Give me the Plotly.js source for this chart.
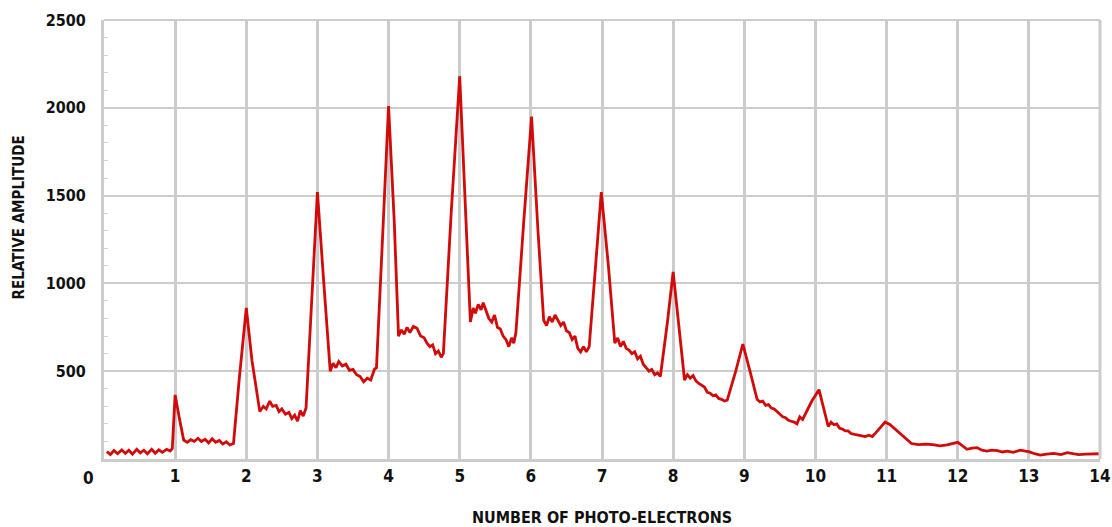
<!DOCTYPE html>
<html>
<head>
<meta charset="utf-8">
<script src="https://cdn.plot.ly/plotly-3.0.1.min.js"></script>
<style>html,body{margin:0;padding:0;background:#fff;}#chart{width:1112px;height:527px;}</style>
</head>
<body>
<div id="chart"></div>
<script>
// Photo-electron count (x) and relative amplitude (y)
const photoElectrons = [
  0.04,0.09,0.14,0.19,0.25,0.30,0.35,0.40,0.46,0.51,0.56,0.61,0.67,0.72,0.77,0.82,0.88,0.93,0.96,
  1.00,1.06,1.12,1.17,1.22,1.27,1.32,1.37,1.42,1.47,1.52,1.57,1.62,1.67,1.72,1.77,1.82,
  1.90,2.00,2.08,2.19,2.24,2.28,2.33,2.37,2.42,2.46,2.50,2.55,2.60,2.64,2.68,2.72,2.76,2.80,2.84,
  2.92,3.00,3.09,3.18,3.22,3.26,3.30,3.35,3.40,3.45,3.50,3.55,3.60,3.65,3.70,3.75,3.80,3.83,
  3.92,4.00,4.08,4.14,4.18,4.22,4.26,4.30,4.35,4.40,4.45,4.50,4.54,4.58,4.62,4.66,4.70,4.74,4.77,
  4.88,5.00,5.08,5.15,5.19,5.22,5.26,5.30,5.33,5.37,5.41,5.45,5.49,5.53,5.57,5.61,5.65,5.69,5.73,5.76,5.79,
  5.90,6.01,6.10,6.18,6.22,6.26,6.30,6.34,6.38,6.42,6.46,6.50,6.54,6.58,6.62,6.66,6.70,6.74,6.78,6.82,
  6.90,6.99,7.09,7.18,7.22,7.26,7.30,7.34,7.38,7.42,7.46,7.50,7.54,7.58,7.62,7.66,7.70,7.74,7.78,7.82,
  7.92,8.00,8.08,8.16,8.20,8.24,8.28,8.32,8.36,8.40,8.44,8.48,8.52,8.56,8.60,8.64,8.68,8.72,8.76,
  8.88,8.98,9.08,9.18,9.22,9.26,9.30,9.34,9.38,9.42,9.46,9.50,9.54,9.58,9.62,9.66,9.70,9.74,9.78,9.82,
  9.95,10.05,10.12,10.18,10.22,10.26,10.30,10.34,10.38,10.42,10.46,10.50,10.55,10.60,10.65,10.70,10.75,10.80,10.85,
  10.92,10.98,11.05,11.12,11.20,11.28,11.35,11.45,11.55,11.65,11.75,11.85,11.92,12.00,12.05,12.13,12.20,12.27,12.34,
  12.41,12.48,12.56,12.63,12.70,12.78,12.88,12.95,13.00,13.08,13.16,13.25,13.35,13.45,13.54,13.62,13.70,13.80,13.90,14.00
];
const amplitude = [
  42,25,48,30,52,32,50,28,55,35,50,30,55,33,52,38,55,45,60,
  365,230,108,95,110,100,118,100,112,92,115,95,105,85,98,80,88,
  450,860,560,270,300,285,330,300,305,270,285,255,265,230,250,215,275,245,290,
  900,1520,1000,500,545,520,555,530,540,505,510,480,470,440,460,450,510,520,
  1300,2010,1350,700,735,710,750,720,755,745,700,690,660,640,650,600,615,580,600,
  1400,2180,1400,780,860,830,880,850,890,840,800,780,820,750,740,700,680,640,690,660,720,
  1350,1950,1300,790,760,810,780,820,790,760,780,730,720,680,700,630,610,640,610,640,
  1050,1520,1100,660,690,640,670,630,620,600,610,570,585,540,520,500,510,480,490,470,
  780,1065,760,450,480,460,475,445,430,420,410,380,375,360,365,345,340,330,335,
  500,655,500,340,325,330,305,310,290,285,270,255,240,235,220,215,210,200,240,225,
  330,395,290,185,210,195,200,175,170,160,160,145,140,135,130,128,135,128,150,
  180,210,195,170,140,110,88,82,85,82,75,80,85,95,80,55,62,65,50,
  45,50,48,40,45,38,50,45,42,30,22,28,32,25,36,30,25,28,30,30
];
const xTickValues = [1,2,3,4,5,6,7,8,9,10,11,12,13,14];
const xTickLabels = ["1","2","3","4","5","6","7","8","9","10","11","12","13","14"];
const yTickValues = [500,1000,1500,2000,2500];
const yTickLabels = ["500","1000","1500","2000","2500"];
const yMinorTicks = [100,200,300,400,600,700,800,900,1100,1200,1300,1400,1600,1700,1800,1900,2100,2200,2300,2400];

const FONT = '"DejaVu Sans Condensed", "DejaVu Sans", sans-serif';

const trace = {
  x: photoElectrons,
  y: amplitude,
  type: 'scatter',
  mode: 'lines',
  line: {color: '#d10a0a', width: 2.8},
  hoverinfo: 'x+y'
};

const layout = {
  width: 1112,
  height: 527,
  margin: {l: 104, r: 12, t: 20, b: 68},
  paper_bgcolor: '#ffffff',
  plot_bgcolor: '#ffffff',
  showlegend: false,
  font: {family: FONT, color: '#111111'},
  xaxis: {
    range: [0, 14],
    tickvals: xTickValues,
    ticktext: xTickLabels,
    showgrid: true,
    gridcolor: '#cccccc',
    gridwidth: 3,
    zeroline: false,
    showline: true,
    linecolor: '#cccccc',
    linewidth: 3,
    ticks: '',
    ticklabelstandoff: 0,
    tickfont: {family: FONT, size: 17, color: '#111111', weight: 'bold', stretch: 'condensed'},
    title: {text: 'NUMBER OF PHOTO-ELECTRONS', font: {family: FONT, size: 16, color: '#111111', weight: 'bold', stretch: 'condensed'}, standoff: 27}
  },
  yaxis: {
    range: [0, 2500],
    tickvals: yTickValues,
    ticktext: yTickLabels,
    showgrid: true,
    gridcolor: '#cccccc',
    gridwidth: 2,
    zeroline: false,
    showline: true,
    linecolor: '#cccccc',
    linewidth: 3,
    ticks: '',
    ticklabelstandoff: 12,
    tickfont: {family: FONT, size: 16, color: '#111111', weight: 'bold', stretch: 'condensed'},
    minor: {tickvals: yMinorTicks, ticks: 'inside', ticklen: 4, tickcolor: '#d4d4d4', tickwidth: 1},
    title: {text: ''}
  },
  shapes: [
    {type: 'line', xref: 'paper', yref: 'paper', x0: 0, x1: 1, y0: 1, y1: 1, line: {color: '#cccccc', width: 2}},
    {type: 'line', xref: 'paper', yref: 'paper', x0: 1, x1: 1, y0: 0, y1: 1, line: {color: '#cccccc', width: 3}}
  ],
  annotations: [
    {text: '0', xref: 'paper', yref: 'paper', x: -0.016, y: -0.043, xanchor: 'center', yanchor: 'middle', showarrow: false,
     font: {family: FONT, size: 17, color: '#111111', weight: 'bold', stretch: 'condensed'}},
    {text: 'RELATIVE AMPLITUDE', xref: 'paper', yref: 'paper', x: -0.085, y: 0.551, xanchor: 'center', yanchor: 'middle',
     textangle: -90, showarrow: false,
     font: {family: FONT, size: 15, color: '#111111', weight: 'bold', stretch: 'condensed'}}
  ]
};

Plotly.newPlot('chart', [trace], layout, {displayModeBar: false, staticPlot: true});
</script>
</body>
</html>
